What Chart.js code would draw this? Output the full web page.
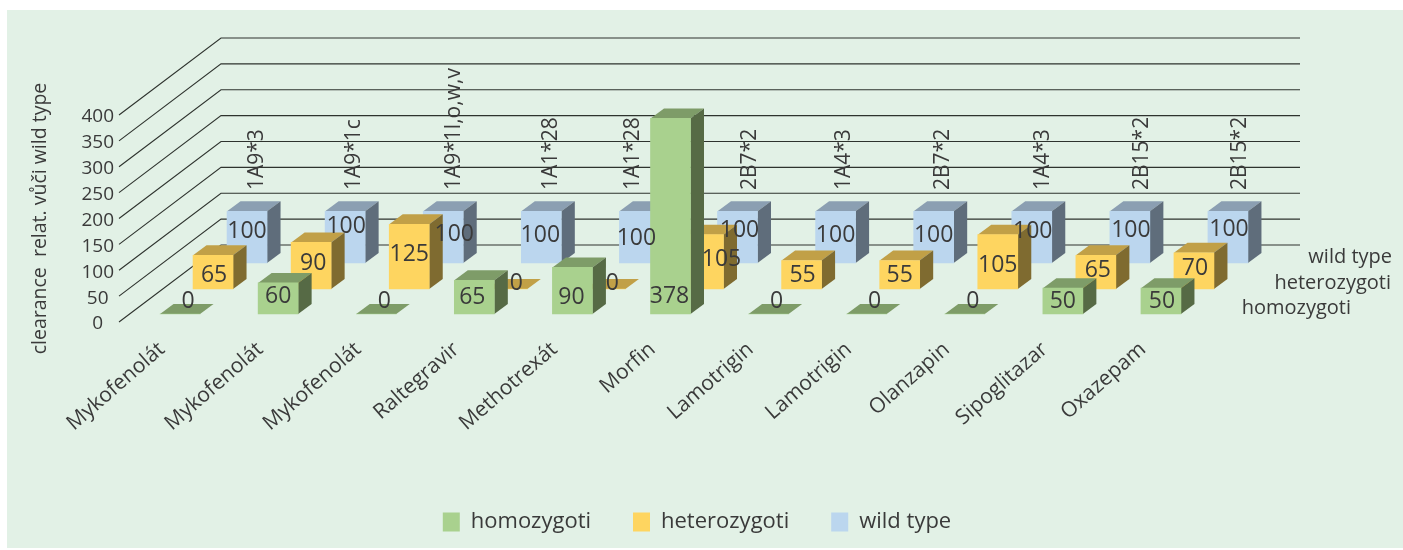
<!DOCTYPE html>
<html><head><meta charset="utf-8">
<style>html,body{margin:0;padding:0;background:#fff}canvas{display:block}</style>
<script src="https://cdn.jsdelivr.net/npm/chart.js@4"></script>
</head><body><canvas id="c" width="1403" height="550"></canvas>
<script>
const categories = ["Mykofenolát","Mykofenolát","Mykofenolát","Raltegravir","Methotrexát","Morfin","Lamotrigin","Lamotrigin","Olanzapin","Sipoglitazar","Oxazepam"];
const genes = ["1A9*3","1A9*1c","1A9*1l,o,w,v","1A1*28","1A1*28","2B7*2","1A4*3","2B7*2","1A4*3","2B15*2","2B15*2"];
const homozygoti = [0,60,0,65,90,378,0,0,0,50,50];
const heterozygoti = [65,90,125,0,0,105,55,55,105,65,70];
const wildType = [100,100,100,100,100,100,100,100,100,100,100];
const yTicks = [0,50,100,150,200,250,300,350,400];
const axisTitle = "clearance  relat. vůči wild type";

const FONT = '"Open Sans"';
const INK = '#3a3a3a';
const WALL = {dx:102, dy:-77};
const BAR_DEPTH = {dx:13.5, dy:-10};
const seriesStyle = [
  {shift:[12,-8],  front:'#a9d18e', top:'#7e9c68', side:'#566a45', right:[1351,308]},
  {shift:[45,-33], front:'#fed560', top:'#c1a047', side:'#7f6b30', right:[1391,283]},
  {shift:[79,-59], front:'#bbd6ee', top:'#8b9fb2', side:'#5f6d7b', right:[1392,257]}
];
// hand placement of the value labels, relative to each bar's foot
const labelNudge = [
  {x:[8,0,8,-2,-1,-1,8,8,8,0,1],   y:[-13,-18,-13,-17,-17,-18,-13,-13,-13,-13,-13]},
  {x:[1,2,0,9,7,18,1,0,0,2,1],     y:[-14,-26,-35,-6,-6,-30,-14,-14,-24,-19,-21]},
  {x:[0,1,11,-1,-3,2,0,0,1,1,1],   y:[-32,-37,-29,-28,-25,-33,-28,-28,-32,-33,-34]}
];
const geneNudge = [89,88,90,89,73,91.5,87,88,90,91,91];

const scene3d = {
  id:'scene3d',
  beforeDraw(chart){
    const c = chart.ctx;
    c.save();
    c.fillStyle = '#fff'; c.fillRect(0,0,chart.width,chart.height);
    c.fillStyle = '#e2f1e6'; c.fillRect(7,10,chart.width-7,538);
    c.restore();
  },
  afterLayout(chart){
    chart.legend.left += 98; chart.legend.right += 98;
    chart.legend.top -= 24; chart.legend.bottom -= 24;
  },
  beforeDatasetsDraw(chart){
    const c = chart.ctx, y = chart.scales.y, a = chart.chartArea;
    c.save();
    c.strokeStyle = '#2e332e'; c.lineWidth = 1.1;
    yTicks.forEach(v=>{
      const p = y.getPixelForValue(v);
      c.beginPath();
      c.moveTo(a.left, p);
      c.lineTo(a.left+WALL.dx, p+WALL.dy);
      c.lineTo(a.right+WALL.dx, p+WALL.dy);
      c.stroke();
    });
    c.restore();
  },
  beforeDatasetDraw(chart,args){
    const c = chart.ctx, st = seriesStyle[args.index];
    c.save();
    c.translate(st.shift[0], st.shift[1]);
    args.meta.data.forEach(el=>{
      const p = el.getProps(['x','y','base','width'],true);
      const l = p.x-p.width/2, r = p.x+p.width/2;
      c.fillStyle = st.top;
      c.beginPath();
      c.moveTo(l,p.y); c.lineTo(r,p.y);
      c.lineTo(r+BAR_DEPTH.dx,p.y+BAR_DEPTH.dy); c.lineTo(l+BAR_DEPTH.dx,p.y+BAR_DEPTH.dy);
      c.closePath(); c.fill();
      if (p.base-p.y>0.5){
        c.fillStyle = st.side;
        c.beginPath();
        c.moveTo(r,p.y); c.lineTo(r+BAR_DEPTH.dx,p.y+BAR_DEPTH.dy);
        c.lineTo(r+BAR_DEPTH.dx,p.base+BAR_DEPTH.dy); c.lineTo(r,p.base);
        c.closePath(); c.fill();
      }
    });
  },
  afterDatasetDraw(chart){ chart.ctx.restore(); },
  afterDatasetsDraw(chart){
    const c = chart.ctx, x = chart.scales.x, y = chart.scales.y;
    c.save();
    c.fillStyle = INK; c.textBaseline = 'middle';
    // value labels
    c.font = '23px '+FONT; c.textAlign = 'center';
    chart.data.datasets.forEach((ds,i)=>{
      const st = seriesStyle[i], n = labelNudge[i];
       ds.data.forEach((v,k)=>{
        c.fillText(String(v),
          x.getPixelForValue(k)+st.shift[0]+n.x[k],
          y.getPixelForValue(0)+st.shift[1]+n.y[k]);
      });
    });
    // depth axis labels
    c.font = '20px '+FONT; c.textAlign = 'right';
    chart.data.datasets.forEach((ds,i)=>{
      const st = seriesStyle[i];
      c.fillText(ds.label, st.right[0], st.right[1]);
    });
    // gene names
    c.font = '21px '+FONT; c.textAlign = 'left';
    genes.forEach((g,k)=>{
      c.save();
      c.translate(x.getPixelForValue(k)+geneNudge[k], 190);
      c.rotate(-Math.PI/2);
      c.fillText(g,0,0);
      c.restore();
    });
    c.restore();
  }
};

const mkDs = (label,data,i)=>({label,data,backgroundColor:seriesStyle[i].front,borderWidth:0,
  grouped:false,barThickness:40,clip:false});

new Chart(document.getElementById('c'),{
  type:'bar',
  data:{labels:categories,datasets:[
    mkDs('homozygoti',homozygoti,0),
    mkDs('heterozygoti',heterozygoti,1),
    mkDs('wild type',wildType,2)
  ]},
  options:{
    responsive:false,animation:false,
    layout:{padding:{left:0,right:205,top:115,bottom:-17}},
    plugins:{
      tooltip:{enabled:false},
      legend:{position:'bottom',labels:{boxWidth:17,boxHeight:19,padding:42,color:INK,
        font:{family:FONT,size:22}}}
    },
    scales:{
      x:{
        type:'category',
        grid:{display:false,drawTicks:false},border:{display:false},
        afterFit(s){s.height=171;},
        ticks:{autoSkip:false,maxRotation:41,minRotation:41,padding:15,labelOffset:-6,color:INK,
          font:{family:FONT,size:21}}
      },
      y:{
        min:0,max:400,
        grid:{display:false,drawTicks:false},border:{display:false},
        afterFit(s){s.width=119;},
        afterBuildTicks(s){s.ticks=yTicks.map(v=>({value:v}));},
        title:{display:true,text:axisTitle,color:INK,font:{family:FONT,size:19.5},padding:{top:29,bottom:0}},
        ticks:{autoSkip:false,padding:5,crossAlign:'center',labelOffset:2,color:INK,font:{family:FONT,size:19}}
      }
    }
  },
  plugins:[scene3d]
});
</script></body></html>
